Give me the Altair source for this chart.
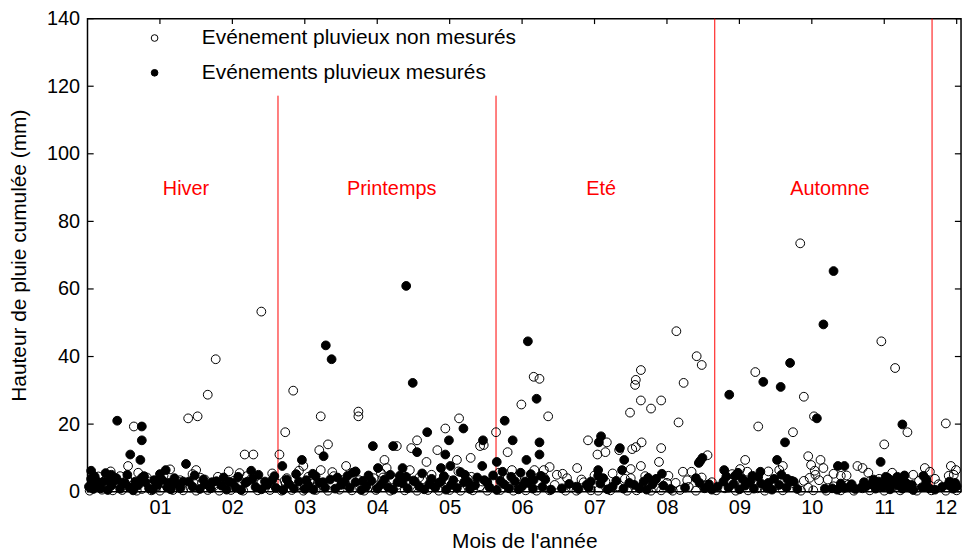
import altair as alt
import pandas as pd

# ---------------- data (month of year as decimal, cumulated rain in mm) -------------
# Evénement pluvieux non mesurés (open circles)
open_x = [2.40, 1.77, 1.66, 1.39, 1.52, 0.64, 0.56, 2.17, 2.29, 2.65, 2.84, 2.73, 1.50, 1.56, 2.10,
          3.22, 3.74, 3.74, 5.13, 4.94, 4.55, 3.32, 3.20, 5.42, 5.47, 4.83, 4.47, 5.64, 5.99, 5.80,
          4.27, 4.10, 4.68, 5.10, 5.29, 3.57, 4.13, 3.22, 5.86, 2.98,
          6.16, 6.24, 6.36, 7.56, 7.57, 7.64, 7.64, 7.49, 7.78, 7.92, 8.16, 8.23, 8.13, 8.41, 8.48,
          6.91, 7.17, 7.04, 7.15, 7.34, 7.52, 7.57, 7.65, 7.92, 7.89, 7.64, 6.38, 6.30, 6.17, 6.76,
          8.22, 8.34, 8.56, 9.08, 6.56, 7.50, 8.02,
          9.84, 10.96, 11.15, 9.22, 9.89, 9.26, 9.74, 10.03, 11.32, 11.85, 11.00, 9.95, 10.12, 10.16,
          10.04, 9.99, 9.60, 9.55, 9.01, 9.11, 10.63, 10.70, 10.30, 10.40, 11.56, 11.63, 11.92, 11.99,
          11.89, 11.11, 10.93, 10.81, 9.97, 9.89, 11.48,
          # low band
          0.03, 0.07, 0.15, 0.20, 0.26, 0.35, 0.42, 0.48, 0.55, 0.62, 0.68, 0.75, 0.82, 0.88, 0.95,
          1.00, 1.08, 1.18, 1.25, 1.32, 1.42, 1.50, 1.58, 1.66, 1.74, 1.82, 1.90, 1.98, 2.08, 2.15,
          2.25, 2.35, 2.45, 2.52, 2.62, 2.68, 2.75, 2.82, 2.88, 2.98, 3.08, 3.15, 3.25, 3.32, 3.40,
          3.48, 3.56, 3.65, 3.75, 3.82, 3.88, 3.98, 4.08, 4.18, 4.28, 4.38, 4.48, 4.55, 4.62, 4.70,
          4.78, 4.85, 4.92, 5.00, 5.08, 5.15, 5.25, 5.32, 5.42, 5.52, 5.60, 5.70, 5.80, 5.88, 5.98,
          6.05, 6.12, 6.20, 6.30, 6.38, 6.45, 6.60, 6.68, 6.75, 6.85, 6.95, 7.05, 7.15, 7.22, 7.32,
          7.45, 7.50, 7.58, 7.68, 7.78, 7.85, 7.92, 8.00, 8.08, 8.18, 8.30, 8.40, 8.55, 8.68, 8.80,
          8.95, 9.05, 9.12, 9.25, 9.35, 9.50, 9.60, 9.75, 9.85, 9.95, 10.02, 10.10, 10.20, 10.30,
          10.40, 10.50, 10.58, 10.70, 10.80, 10.90, 11.00, 11.10, 11.22, 11.32, 11.45, 11.55, 11.65,
          11.75, 11.85, 11.92, 12.00,
          0.06, 0.12, 0.32, 0.45, 0.58, 0.70, 0.86, 1.05, 1.14, 1.28, 1.45, 1.62, 1.80, 1.95, 2.02,
          2.20, 2.40, 2.55, 2.72, 2.92, 3.05, 3.18, 3.38, 3.52, 3.70, 3.95, 4.05, 4.22, 4.45, 4.58,
          4.75, 4.98, 5.12, 5.30, 5.45, 5.68, 5.92, 6.10, 6.48, 6.62, 6.82, 7.00, 7.25, 7.42, 7.70,
          7.82, 8.12, 8.28, 8.48, 8.62, 8.90, 9.18, 9.40, 9.70, 10.05, 10.22, 10.48, 10.78, 11.05,
          11.40, 11.70, 11.96]
open_y = [53.3, 39.2, 28.7, 21.7, 22.3, 19.3, 7.6, 11.0, 11.0, 11.0, 29.9, 17.6, 6.4, 4.1, 5.5,
          22.3, 23.7, 22.3, 21.7, 18.7, 15.2, 14.0, 12.3, 13.5, 13.8, 12.3, 12.9, 17.6, 25.8, 11.7,
          13.5, 9.4, 8.8, 9.4, 10.0, 7.6, 7.0, 6.4, 6.4, 7.6,
          34.0, 33.4, 22.3, 31.6, 33.1, 36.0, 27.0, 23.4, 24.6, 27.0, 20.5, 32.2, 47.5, 40.1, 37.5,
          15.2, 14.6, 11.0, 11.7, 12.3, 12.6, 13.2, 14.6, 12.9, 8.8, 7.6, 7.3, 6.4, 6.4, 7.0,
          5.9, 5.9, 10.8, 9.4, 5.3, 6.7, 4.7,
          73.5, 44.5, 36.6, 35.4, 28.1, 19.3, 17.6, 22.3, 17.6, 20.2, 14.0, 10.5, 9.4, 7.0,
          6.2, 7.9, 7.6, 6.4, 6.7, 5.9, 7.6, 7.0, 5.3, 4.7, 7.0, 5.9, 7.6, 6.4,
          4.7, 5.6, 3.8, 3.2, 4.1, 3.2, 3.2,
          # low band
          0.3, 2.0, 4.5, 0.6, 1.8, 0.4, 2.8, 0.5, 3.8, 1.3, 0.3, 0.8, 4.2, 0.4, 1.5,
          0.3, 2.2, 0.5, 3.0, 0.4, 1.2, 0.3, 2.6, 0.5, 1.5, 0.3, 2.8, 0.5, 1.7, 0.3,
          3.6, 0.4, 1.2, 0.5, 2.4, 0.3, 4.0, 0.5, 1.6, 0.3, 3.2, 0.5, 1.8, 0.3, 4.6,
          0.6, 2.2, 0.4, 3.4, 0.3, 1.4, 0.5, 4.2, 0.3, 2.0, 0.4, 1.3, 0.3, 3.6, 0.5,
          1.8, 0.3, 4.4, 0.5, 2.4, 0.3, 3.8, 0.4, 1.6, 0.3, 2.6, 0.5, 4.0, 0.3, 1.5,
          0.4, 2.6, 0.3, 4.2, 0.4, 2.0, 0.3, 1.2, 0.3, 2.8, 0.4, 0.3, 3.0, 0.4, 1.6,
          0.3, 4.0, 0.4, 2.2, 0.3, 1.1, 0.4, 2.6, 0.3, 0.5, 1.4, 0.3, 2.0, 0.4, 1.0,
          0.3, 2.2, 0.4, 1.0, 0.3, 1.8, 0.4, 2.5, 0.3, 1.2, 0.4, 3.4, 0.3, 1.6,
          0.4, 2.0, 0.3, 1.0, 0.4, 1.8, 0.3, 1.2, 0.4, 2.0, 0.3, 1.4, 0.4,
          2.2, 0.3, 1.6, 0.4,
          5.0, 3.2, 6.0, 4.6, 2.8, 5.6, 3.0, 4.8, 6.6, 3.4, 5.2, 3.6, 4.4, 6.0, 3.2,
          4.6, 2.6, 5.4, 3.2, 6.2, 4.4, 2.6, 5.8, 3.4, 6.0, 4.0, 5.6, 3.6, 6.4, 4.2,
          5.0, 3.4, 6.0, 4.4, 3.0, 5.6, 4.2, 3.4, 5.0, 4.0, 3.6, 4.8, 5.4, 3.8, 4.6,
          3.0, 2.6, 3.4, 4.2, 2.8, 5.2, 4.0, 6.0, 3.2, 5.0, 3.6, 4.8, 5.6, 4.0,
          5.0, 3.8, 5.0]

# Evénements pluvieux mesurés (filled circles)
filled_x = [0.41, 0.75, 0.75, 0.59, 0.73, 1.36, 1.08, 0.05, 2.26, 2.69, 2.96, 0.33, 0.75,
            3.29, 3.37, 4.40, 4.49, 5.76, 5.19, 4.69, 4.99, 5.46, 5.87, 3.94, 4.22, 4.55, 4.94,
            3.26, 5.65, 6.06, 5.45, 5.01, 4.88, 4.01, 4.35, 3.70, 3.11, 5.73, 5.21, 3.59, 4.31,
            6.08, 6.20, 6.24, 6.24, 7.09, 7.06, 7.35, 7.41, 7.05, 7.05, 7.38, 7.93, 7.85, 7.74,
            8.44, 8.49, 8.46, 8.86, 8.79, 6.89, 6.75, 6.65, 6.26, 6.16,
            10.30, 10.16, 9.70, 9.33, 9.57, 10.07, 11.25, 9.63, 9.52, 10.95, 10.36, 10.45, 9.29,
            9.18, 11.54, 9.66, 9.48, 11.02, 11.18, 11.25, 8.94, 9.04,
            # low band
            0.02, 0.05, 0.08, 0.12, 0.18, 0.22, 0.28, 0.33, 0.38, 0.45, 0.52, 0.58, 0.63, 0.70,
            0.80, 0.85, 0.90, 0.97, 1.03, 1.10, 1.15, 1.22, 1.28, 1.40, 1.45, 1.55, 1.62, 1.70,
            1.78, 1.85, 1.92, 2.00, 2.05, 2.12, 2.20, 2.32, 2.40, 2.48, 2.55, 2.60, 2.70, 2.78,
            2.85, 2.92, 3.00, 3.05, 3.12, 3.20, 3.28, 3.35, 3.42, 3.50, 3.62, 3.70, 3.78, 3.85,
            3.92, 4.00, 4.05, 4.15, 4.22, 4.35, 4.42, 4.50, 4.58, 4.65, 4.72, 4.80, 4.88, 4.95,
            5.02, 5.10, 5.20, 5.28, 5.35, 5.48, 5.55, 5.65, 5.75, 5.82, 5.90, 5.95, 6.00, 6.08,
            6.15, 6.28, 6.40, 6.55, 6.78, 6.92, 7.08, 7.18, 7.25, 7.40, 7.55, 7.62, 7.72, 7.95,
            8.05, 8.25, 8.45, 8.52, 8.62, 8.70, 8.78, 8.85, 8.92, 9.00, 9.08, 9.15, 9.20, 9.30,
            9.38, 9.45, 9.55, 9.65, 9.72, 9.80, 10.18, 10.28, 10.35, 10.45, 10.52, 10.60, 10.68,
            10.75, 10.82, 10.88, 10.92, 10.98, 11.03, 11.08, 11.14, 11.20, 11.25, 11.30, 11.35,
            11.40, 11.52, 11.58, 11.62, 11.70, 11.80, 11.88, 11.95, 12.00,
            0.10, 0.15, 0.25, 0.30, 0.40, 0.48, 0.55, 0.66, 0.78, 0.92, 1.00, 1.12, 1.20, 1.32,
            1.48, 1.60, 1.72, 1.88, 1.95, 2.08, 2.18, 2.28, 2.36, 2.45, 2.58, 2.75, 2.88, 3.02,
            3.15, 3.25, 3.45, 3.55, 3.66, 3.80, 3.88, 4.10, 4.18, 4.28, 4.40, 4.52, 4.62, 4.75,
            4.85, 4.92, 5.05, 5.15, 5.25, 5.38, 5.52, 5.60, 5.70, 5.85, 5.98, 6.04, 6.12, 6.32,
            6.95, 7.12, 7.30, 7.48, 7.68, 7.80, 8.40, 8.58, 8.82, 8.98, 9.10, 9.26, 9.40, 9.58,
            9.75, 10.40, 10.55, 10.72, 10.85, 10.95, 11.05, 11.12, 11.22, 11.28, 11.38, 11.58,
            11.90, 11.98]
filled_y = [21.0, 19.3, 15.2, 11.0, 9.4, 8.2, 6.4, 6.2, 6.2, 7.6, 9.4, 5.0, 4.1,
            43.3, 39.2, 60.9, 32.2, 21.0, 18.7, 17.6, 15.2, 15.2, 15.2, 13.5, 13.5, 11.7, 11.0,
            10.5, 8.8, 9.4, 7.6, 7.6, 7.0, 7.0, 7.0, 5.9, 5.3, 5.9, 5.0, 4.7, 4.7,
            44.5, 27.5, 14.6, 11.0, 16.4, 14.6, 12.9, 9.4, 6.4, 4.7, 6.4, 5.3, 3.8, 4.1,
            8.5, 10.0, 9.1, 28.7, 6.4, 2.0, 1.5, 2.3, 4.7, 3.5,
            65.3, 49.5, 38.1, 32.5, 31.0, 21.7, 19.9, 14.6, 9.4, 8.8, 7.6, 7.6, 5.9,
            4.7, 4.7, 3.8, 3.8, 4.4, 4.4, 3.8, 4.7, 3.8,
            # low band
            1.5, 3.8, 0.8, 2.2, 1.0, 3.0, 0.5, 1.8, 3.3, 0.9, 2.5, 1.2, 0.4, 1.9,
            2.8, 1.0, 0.6, 2.0, 3.5, 1.3, 0.7, 2.4, 1.0, 3.0, 1.5, 0.8, 2.2, 1.0,
            3.1, 1.8, 0.6, 2.6, 1.2, 0.5, 2.9, 1.4, 0.7, 2.0, 3.4, 1.1, 0.5, 2.3,
            1.0, 3.0, 0.8, 1.9, 0.6, 2.7, 1.2, 3.6, 0.9, 2.0, 1.1, 2.8, 0.5, 1.6,
            3.2, 0.9, 2.1, 1.3, 0.6, 2.5, 1.0, 3.3, 1.5, 0.7, 2.2, 1.2, 3.0, 0.6,
            2.0, 1.1, 2.8, 0.8, 1.9, 3.4, 1.3, 0.5, 2.2, 1.0, 3.1, 0.7, 1.6, 2.6,
            0.9, 1.4, 0.6, 1.0, 0.8, 1.2, 2.4, 0.7, 1.5, 0.9, 2.0, 1.0, 0.6, 1.8,
            0.8, 1.2, 2.6, 1.0, 0.6, 1.5, 3.0, 1.2, 2.3, 0.7, 1.8, 3.0, 0.9, 2.4,
            1.1, 0.6, 2.0, 1.2, 3.2, 0.8, 0.9, 1.0, 0.6, 1.1, 1.4, 0.8, 1.2,
            1.6, 2.2, 0.9, 3.0, 1.4, 2.5, 0.7, 3.4, 1.8, 0.9, 2.6, 1.2,
            0.5, 1.3, 2.8, 1.0, 0.6, 1.4, 2.0, 0.9, 1.6,
            4.5, 2.8, 5.5, 3.2, 4.0, 2.6, 5.0, 3.0, 4.6, 3.4, 5.2, 2.6, 4.0, 3.0,
            4.8, 3.6, 2.8, 4.2, 3.0, 4.4, 2.6, 3.8, 5.0, 3.0, 4.6, 3.6, 5.2, 3.4,
            4.6, 2.8, 4.2, 3.0, 5.6, 3.2, 4.8, 3.6, 5.0, 2.8, 4.4, 3.0, 5.4, 3.8,
            2.6, 4.6, 3.4, 5.8, 3.0, 4.2, 2.8, 4.8, 3.2, 4.4, 5.6, 3.0, 5.2, 3.6,
            3.0, 4.0, 3.2, 2.6, 3.0, 2.2, 4.0, 2.2, 4.5, 5.6, 2.8, 4.4, 2.6, 5.0,
            3.0, 2.4, 2.2, 2.8, 3.6, 2.0, 4.0, 2.2, 3.2, 4.8, 2.0, 3.6,
            3.0, 2.6]

L_OPEN = "Evénement pluvieux non mesurés"
L_FILLED = "Evénements pluvieux mesurés"

month_ticks = [1, 2, 3, 4, 5, 6, 7, 8, 9, 10, 11, 12]
y_ticks = [0, 20, 40, 60, 80, 100, 120, 140]

season_names = ["Hiver", "Printemps", "Eté", "Automne"]
season_x = [1.36, 4.20, 7.09, 10.25]
season_y = [89.6, 89.6, 89.6, 89.6]

boundary_x = [2.63, 5.64, 8.66, 11.66]
boundary_top = [117.2, 117.2, 140, 140]

X_MAX = 12.06
Y_MAX = 140
FONT = "Liberation Sans"

# ---------------- tables ----------------
pts = pd.DataFrame({
    "m": open_x + filled_x,
    "h": open_y + filled_y,
    "type": [L_OPEN] * len(open_x) + [L_FILLED] * len(filled_x),
})
seasons = pd.DataFrame({"m": season_x, "h": season_y, "name": season_names})
bounds = pd.DataFrame({"m": boundary_x, "h": [0] * 4, "h2": boundary_top})

xtick_len = 0.085
ytick_len = 1.6
ticks_v = pd.DataFrame(
    [{"m": 0, "m2": xtick_len, "h": v} for v in y_ticks]
    + [{"m": X_MAX - xtick_len, "m2": X_MAX, "h": v} for v in y_ticks]
)
ticks_h = pd.DataFrame(
    [{"m": k, "h": Y_MAX - ytick_len, "h2": Y_MAX} for k in month_ticks]
    + [{"m": k, "h": 0, "h2": ytick_len} for k in month_ticks]
)

xscale = alt.Scale(domain=[0, X_MAX], nice=False, zero=False)
yscale = alt.Scale(domain=[0, Y_MAX], nice=False)

xaxis = alt.Axis(values=month_ticks, format="02d", labelFontSize=20, labelFont=FONT,
                 labelColor="black", ticks=False, domain=False, grid=False,
                 labelPadding=6, labelFlush=10, titleFontSize=21, titleFont=FONT,
                 titleFontWeight="normal", titleColor="black", titlePadding=13)
yaxis = alt.Axis(values=y_ticks, labelFontSize=20, labelFont=FONT, labelColor="black",
                 ticks=False, domain=False, grid=False, labelPadding=8,
                 titleFontSize=21, titleFont=FONT, titleFontWeight="normal",
                 titleColor="black", titlePadding=17)

XT = "Mois de l'année"
YT = "Hauteur de pluie cumulée (mm)"


def X(f):
    return alt.X(f, type="quantitative", scale=xscale, axis=xaxis, title=XT)


def Y(f):
    return alt.Y(f, type="quantitative", scale=yscale, axis=yaxis, title=YT)


lines = alt.Chart(bounds).mark_rule(color="#ff0000", strokeWidth=1).encode(
    x=X("m"), y=Y("h"), y2="h2"
)

vt = alt.Chart(ticks_v).mark_rule(color="black", strokeWidth=1.2).encode(
    x=X("m"), x2="m2", y=Y("h")
)
ht = alt.Chart(ticks_h).mark_rule(color="black", strokeWidth=1.2).encode(
    x=X("m"), y=Y("h"), y2="h2"
)

points = alt.Chart(pts).mark_point(
    shape="circle", filled=True, size=78, stroke="black", strokeWidth=1, opacity=1
).encode(
    x=X("m"),
    y=Y("h"),
    fill=alt.Fill("type:N",
                  scale=alt.Scale(domain=[L_OPEN, L_FILLED], range=["transparent", "black"]),
                  legend=alt.Legend(title=None, orient="none", legendX=57, legendY=9,
                                    labelFontSize=21, labelFont=FONT, labelColor="black",
                                    labelLimit=600,
                                    symbolType="circle", symbolSize=45,
                                    symbolStrokeColor="black", symbolStrokeWidth=1,
                                    labelOffset=37, rowPadding=13)),
)

texts = alt.Chart(seasons).mark_text(color="#ff0000", fontSize=20, font=FONT).encode(
    x=X("m"), y=Y("h"), text="name:N"
)

chart = alt.layer(lines, vt, ht, points, texts).properties(
    width=879, height=476,
    padding={"left": 80, "top": 9, "right": 5, "bottom": 62},
    autosize=alt.AutoSizeParams(type="none"),
    background="white",
).configure_view(stroke="black", strokeWidth=1.5)

chart.save("out.html", embed_options={"renderer": "svg", "actions": False})
